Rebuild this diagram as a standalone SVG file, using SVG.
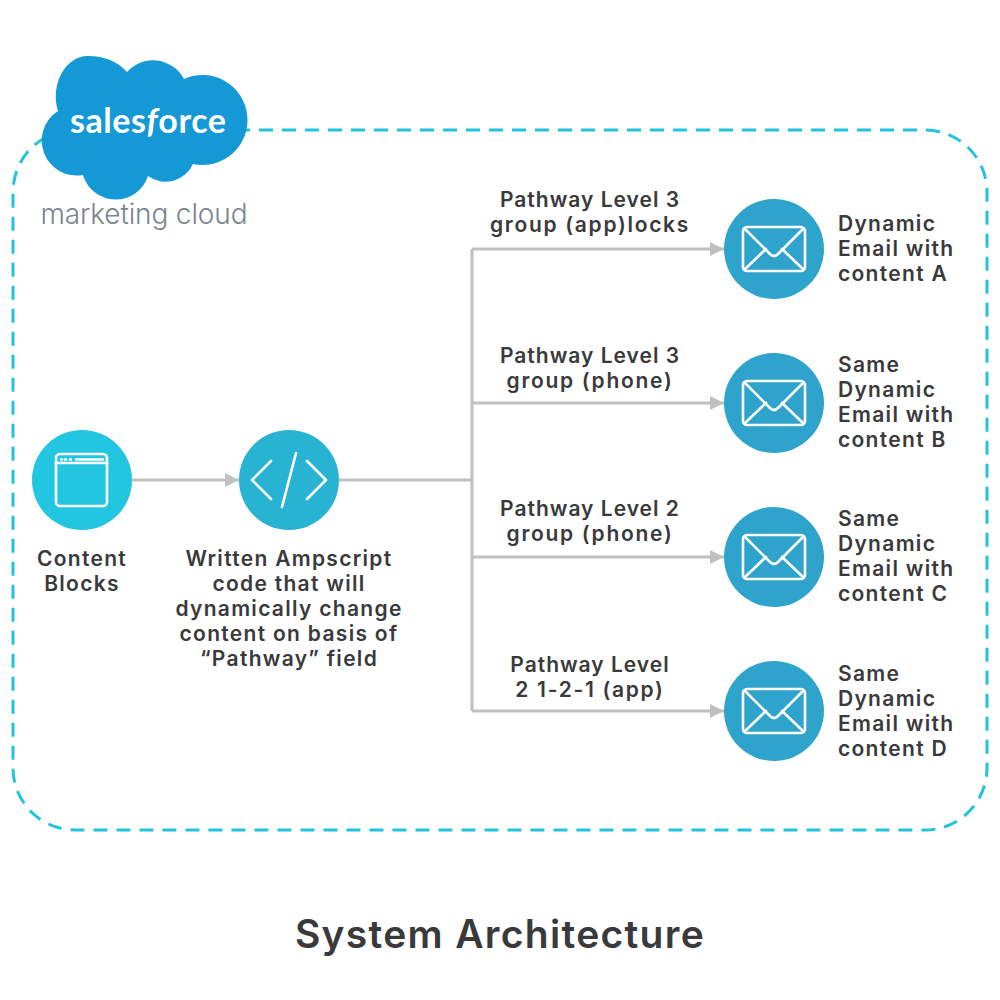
<svg xmlns="http://www.w3.org/2000/svg" width="1000" height="1000" viewBox="0 0 1000 1000">
<style>
text{font-family:"Inter","Liberation Sans",sans-serif;font-weight:600;font-size:21px;fill:#3a3a3c;letter-spacing:1.3px}
.m{text-anchor:middle}
.p{letter-spacing:1px}
.g{letter-spacing:1.7px}
.frame{fill:none;stroke:#22c3dc;stroke-width:3;stroke-dasharray:14 9}
.c{fill:none;stroke:#c0c0c0;stroke-width:3}
.i{fill:none;stroke:#fff;stroke-width:2.6;stroke-linecap:round;stroke-linejoin:round}
.e{fill:#2ea3cb}
.cloud{fill:#1598d6}
</style>
<defs>
<marker id="a" markerUnits="userSpaceOnUse" markerWidth="14" markerHeight="14" refX="14" refY="7" orient="auto"><path d="M0 0L14 7L0 14Z" fill="#c0c0c0"/></marker>
<g id="env"><rect x="-31" y="-22" width="62" height="44" rx="4" class="i"/><path class="i" d="M-29-20L-4 5Q0 9 4 5L29-20M-8 0L-29 20M8 0L29 20"/></g>
</defs>
<rect id="frame" class="frame" x="13" y="130" width="974" height="700" rx="62"/>
<g id="connectors">
<path class="c" d="M132 480H239" marker-end="url(#a)"/>
<path class="c" d="M339 480H472"/>
<path class="c" d="M472 249V711"/>
<path class="c" d="M472 249H724" marker-end="url(#a)"/>
<path class="c" d="M472 403H724" marker-end="url(#a)"/>
<path class="c" d="M472 557H724" marker-end="url(#a)"/>
<path class="c" d="M472 711H724" marker-end="url(#a)"/>
</g>
<g id="logo">
<path class="cloud" d="M127 72A35 35 0 0 1 184 79A45 45 0 1 1 193 164A30 30 0 0 1 148 176A34 34 0 0 1 83 175A35 35 0 0 1 58 111C50 85 65 56 88 56C105 56 118 62 127 72Z"/>
<text x="148" y="133" class="m" style="font-family:'Lato','Liberation Sans',sans-serif;font-size:34px;font-weight:700;fill:#fff;letter-spacing:0" textLength="156">sales<tspan font-style="italic">f</tspan>orce</text>
<text x="144" y="224" class="m" style="font-size:28px;font-weight:300;fill:#7a868f;letter-spacing:0" textLength="207">marketing cloud</text>
</g>
<g id="content-blocks">
<circle cx="82" cy="480" r="50" fill="#22c6e0"/>
<rect class="i" x="56" y="454" width="51" height="52" rx="4"/>
<path class="i" d="M56 463H107M76 459.500H103" stroke-width="2"/>
<path d="M61 459.500h1M65 459.500h1M70 459.500h1" class="i"/>
<text class="m" x="82" y="565.500">Content</text><text class="m" x="82" y="590.500">Blocks</text>
</g>
<g id="ampscript">
<circle cx="289" cy="480" r="50" fill="#29b3d3"/>
<path class="i" d="M271 461L252 480L271 499M307 461L326 480L307 499M296 453L282 507"/>
<text class="m" x="289" y="565.500">Written Ampscript</text><text class="m" x="289" y="590.500">code that will</text><text class="m" x="289" y="615.500">dynamically change</text><text class="m" x="289" y="640.500">content on basis of</text><text class="m" x="289" y="665.500">“Pathway” field</text>
</g>
<g id="label-1"><text class="m p" x="590" y="207">Pathway Level 3</text><text class="m g" x="590" y="232">group (app)locks</text></g>
<g id="label-2"><text class="m p" x="590" y="363">Pathway Level 3</text><text class="m g" x="590" y="388">group (phone)</text></g>
<g id="label-3"><text class="m p" x="590" y="516">Pathway Level 2</text><text class="m g" x="590" y="541">group (phone)</text></g>
<g id="label-4"><text class="m p" x="590" y="672">Pathway Level</text><text class="m g" x="590" y="697">2 1-2-1 (app)</text></g>
<g id="email-a"><circle class="e" cx="774" cy="249" r="50"/><use href="#env" x="774" y="249"/><text x="838" y="230.500">Dynamic</text><text x="838" y="255.500">Email with</text><text x="838" y="280.500">content A</text></g>
<g id="email-b"><circle class="e" cx="774" cy="403" r="50"/><use href="#env" x="774" y="403"/><text x="838" y="371.500">Same</text><text x="838" y="396.500">Dynamic</text><text x="838" y="421.500">Email with</text><text x="838" y="446.500">content B</text></g>
<g id="email-c"><circle class="e" cx="774" cy="557" r="50"/><use href="#env" x="774" y="557"/><text x="838" y="525.500">Same</text><text x="838" y="550.500">Dynamic</text><text x="838" y="575.500">Email with</text><text x="838" y="600.500">content C</text></g>
<g id="email-d"><circle class="e" cx="774" cy="711" r="50"/><use href="#env" x="774" y="711"/><text x="838" y="680.500">Same</text><text x="838" y="705.500">Dynamic</text><text x="838" y="730.500">Email with</text><text x="838" y="755.500">content D</text></g>
<text id="title" class="m" x="500" y="948" style="font-size:39px;letter-spacing:1.3px">System Architecture</text>
</svg>
